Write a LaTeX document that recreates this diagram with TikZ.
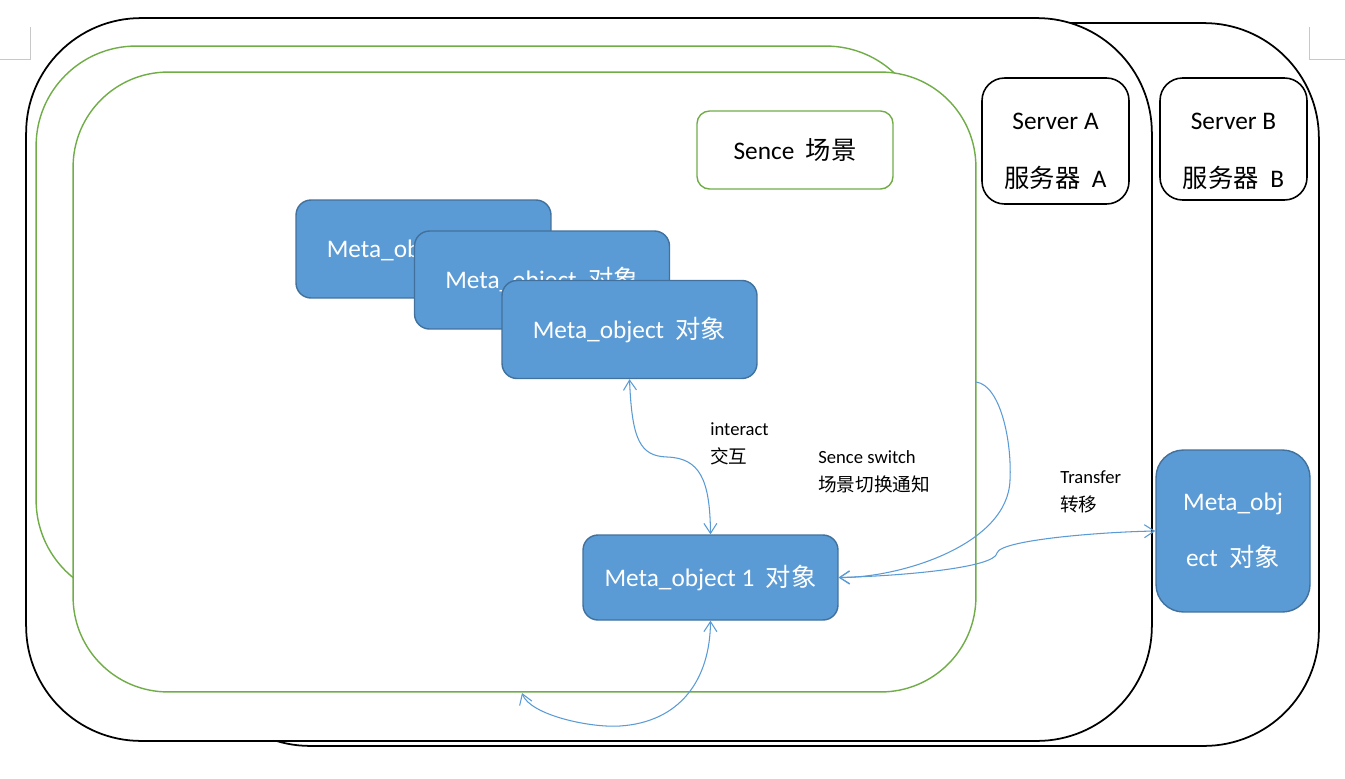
\documentclass[tikz,border=0pt]{standalone}
\usepackage{fontspec}
\setmainfont{Carlito}
\newfontfamily\cjk{Noto Sans CJK SC}
\usepackage{xcolor}
\usepackage{tikz}
\usetikzlibrary{arrows.meta}
\definecolor{leafgreen}{HTML}{70AD47}
\definecolor{objblue}{HTML}{5B9BD5}
\definecolor{objedge}{HTML}{41719C}
\definecolor{linkblue}{HTML}{5B9BD5}
\definecolor{markgray}{HTML}{C8C8C8}

\begin{document}
\begin{tikzpicture}[x=0.02cm,y=-0.02cm, >={Straight Barb[length=2mm,width=2.6mm]},
  every node/.style={font=\fontsize{14.4}{17}\selectfont}]
\tikzstyle{server}=[draw=black,line width=1pt,fill=white,rounded corners=2.3cm,inner sep=0pt]
\tikzstyle{scene}=[draw=leafgreen,line width=0.8pt,fill=white,inner sep=0pt]
\tikzstyle{tag}=[draw=black,line width=0.9pt,fill=white,rounded corners=0.45cm,minimum width=2.94cm]
\tikzstyle{obj}=[draw=objedge,line width=0.8pt,fill=objblue,text=white,rounded corners=0.3cm,minimum width=5.1cm,minimum height=1.96cm]
\tikzstyle{link}=[linkblue,line width=0.6pt]
\tikzstyle{note}=[font=\fontsize{10.6}{16}\selectfont,align=left,anchor=west,inner sep=0pt]
\useasboundingbox (0,0) rectangle (1345,778);
% page corner marks
\draw[markgray,line width=0.4pt] (0,59) -- (30,59) -- (30,27);
\draw[markgray,line width=0.4pt] (1345,59) -- (1309,59) -- (1309,27);
% servers
\node[server,minimum width=22.48cm,minimum height=14.46cm] (servb) at (757,384.5) {};
\node[server,minimum width=22.52cm,minimum height=14.46cm] (serva) at (589,379.5) {};
\node[tag,minimum height=2.52cm] (srvabox) at (1055.5,141) {};
\node[align=center,font=\fontsize{14.4}{33}\selectfont] (srvalbl) at (1055.5,151) {Server A\\{\cjk 服务器}\ \ A};
\node[tag,minimum height=2.44cm] (srvbbox) at (1233.5,139) {};
\node[align=center,font=\fontsize{14.4}{33}\selectfont] (srvblbl) at (1233.5,151) {Server B\\{\cjk 服务器}\ \ B};
% scenes
\node[scene,rounded corners=2cm,minimum width=17.8cm,minimum height=11.08cm] (scenes) at (481,323) {};
\node[scene,rounded corners=1.9cm,minimum width=18.06cm,minimum height=12.4cm] (scene) at (524.5,382) {};
\node[scene,rounded corners=0.25cm,minimum width=3.92cm,minimum height=1.56cm] (sence) at (795,150) {Sence\ \ {\cjk 场景}};
% objects
\node[obj] (obja) at (423.5,249) {Meta\_object\ \ {\cjk 对象}};
\node[obj] (objb) at (542,280) {Meta\_object\ \ {\cjk 对象}};
\node[obj] (objc) at (629.5,329.5) {Meta\_object\ \ {\cjk 对象}};
\node[obj,minimum height=1.7cm] (obj1) at (710.5,577.5) {Meta\_object 1\ \ {\cjk 对象}};
\node[obj,rounded corners=0.55cm,minimum width=3.08cm,minimum height=3.24cm,align=center,font=\fontsize{14.4}{32}\selectfont] (objs) at (1233,531) {Meta\_obj\\ect\ \ {\cjk 对象}};
% labels
\node[note] (interact) at (710,444) {interact\\{\cjk 交互}};
\node[note] (switch) at (818,472) {Sence switch\\{\cjk 场景切换通知}};
\node[note] (transfer) at (1060,492) {Transfer\\{\cjk 转移}};
% links
\coordinate (swfrom) at (976,382);
\coordinate (loopend) at (522,693);
\draw[link,<->] (objc.south) .. controls (632,440) and (640,456) .. (667,457) .. controls (700,458) and (710,480) .. (obj1.north);
\draw[link,->] (swfrom) .. controls (1000,385) and (1012,440) .. (1010,480) .. controls (1008,545) and (900,578) .. (obj1.east);
\draw[link,<->] (obj1.east) .. controls (900,576) and (995,568) .. (997,553) .. controls (1000,540) and (1100,532) .. (objs.west);
\draw[link,<->] (loopend) .. controls (530,715) and (590,728) .. (620,726) .. controls (680,722) and (710,680) .. (obj1.south);
\end{tikzpicture}
\end{document}
